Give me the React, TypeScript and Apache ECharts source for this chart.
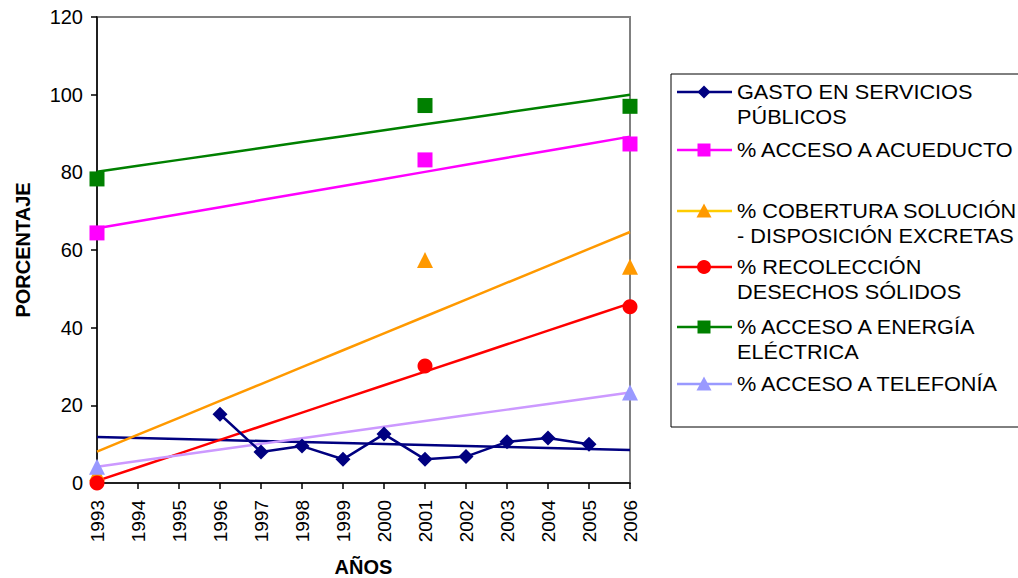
import React, { useEffect, useRef } from "react";
import * as echarts from "echarts";

const years = ["1993","1994","1995","1996","1997","1998","1999","2000","2001","2002","2003","2004","2005","2006"];
const yTicks = [0, 20, 40, 60, 80, 100, 120];

const gasto = [null, null, null, 17.7, 8.0, 9.5, 6.1, 12.6, 6.1, 6.8, 10.6, 11.6, 10.0, null];
const acueducto = [64.4, null, null, null, null, null, null, null, 83.2, null, null, null, null, 87.3];
const cobertura = [2.5, null, null, null, null, null, null, null, 57.4, null, null, null, null, 55.7];
const recoleccion = [0, null, null, null, null, null, null, null, 30.1, null, null, null, null, 45.4];
const energia = [78.3, null, null, null, null, null, null, null, 97.2, null, null, null, null, 97.0];
const telefonia = [4.2, null, null, null, null, null, null, null, null, null, null, null, null, 23.3];

const seriesNames = [
  "GASTO EN SERVICIOS PÚBLICOS",
  "% ACCESO A ACUEDUCTO",
  "% COBERTURA SOLUCIÓN - DISPOSICIÓN EXCRETAS",
  "% RECOLECCIÓN DESECHOS SÓLIDOS",
  "% ACCESO A ENERGÍA ELÉCTRICA",
  "% ACCESO A TELEFONÍA",
];
const legendLines = [
  ["GASTO EN SERVICIOS", "PÚBLICOS"],
  ["% ACCESO A ACUEDUCTO"],
  ["% COBERTURA SOLUCIÓN", "- DISPOSICIÓN EXCRETAS"],
  ["% RECOLECCIÓN", "DESECHOS SÓLIDOS"],
  ["% ACCESO A ENERGÍA", "ELÉCTRICA"],
  ["% ACCESO A TELEFONÍA"],
];

// linear regression (Excel-style trendline) over the available points
function trend(values: (number | null)[]): number[] {
  const pts: [number, number][] = [];
  values.forEach((v, i) => { if (v !== null) pts.push([i, v]); });
  const n = pts.length;
  const mx = pts.reduce((s, p) => s + p[0], 0) / n;
  const my = pts.reduce((s, p) => s + p[1], 0) / n;
  let sxy = 0, sxx = 0;
  pts.forEach(([x, y]) => { sxy += (x - mx) * (y - my); sxx += (x - mx) * (x - mx); });
  const b = sxy / sxx;
  const a = my - b * mx;
  return values.map((_, i) => +(a + b * i).toFixed(3));
}

const FONT = "Liberation Sans, Arial, sans-serif";

export default function App() {
  const ref = useRef<HTMLDivElement>(null);
  useEffect(() => {
    if (!ref.current) return;
    const chart = echarts.init(ref.current, null, { renderer: "svg" });

    const defs = [
      { data: gasto, symbol: "diamond", size: 15, marker: "#000080", line: "#000080", trendColor: "#000080", legendLine: "#000080", showLine: true },
      { data: acueducto, symbol: "rect", size: 15, marker: "#FF00FF", line: "#FF00FF", trendColor: "#FF00FF", legendLine: "#FF00FF", showLine: false },
      { data: cobertura, symbol: "triangle", size: 16, marker: "#FF9900", line: "#FF9900", trendColor: "#FF9900", legendLine: "#FFCC00", showLine: false },
      { data: recoleccion, symbol: "circle", size: 15, marker: "#FF0000", line: "#FF0000", trendColor: "#FF0000", legendLine: "#FF0000", showLine: false },
      { data: energia, symbol: "rect", size: 15, marker: "#008000", line: "#008000", trendColor: "#008000", legendLine: "#008000", showLine: false },
      { data: telefonia, symbol: "triangle", size: 16, marker: "#9999FF", line: "#9999FF", trendColor: "#CC99FF", legendLine: "#9999FF", showLine: false },
    ];

    const trendSeries = defs.map((d, i) => ({
      name: "Tendencia " + (i + 1),
      type: "line",
      data: trend(d.data),
      symbol: "none",
      lineStyle: { color: d.trendColor, width: 2.5 },
      z: 2,
      silent: true,
    }));

    const order = [0, 1, 2, 4, 5, 3];
    const markerSeries = order.map((i) => {
      const d = defs[i];
      return {
        name: seriesNames[i],
        type: "line",
        data: d.data,
        symbol: d.symbol,
        symbolSize: d.size,
        showAllSymbol: true,
        connectNulls: false,
        itemStyle: { color: d.marker },
        lineStyle: d.showLine ? { color: d.line, width: 2.5 } : { width: 0, opacity: 0 },
        z: 3,
      };
    });

    // legend drawn with graphic elements
    const legendEls: any[] = [
      { type: "rect", shape: { x: 671, y: 74, width: 400, height: 353 }, style: { fill: "#fff", stroke: "#000", lineWidth: 1 }, z: 0 },
    ];
    const iconY = [92, 150, 211, 267, 327, 384];
    defs.forEach((d, i) => {
      const y = iconY[i];
      legendEls.push({ type: "line", shape: { x1: 677, y1: y, x2: 732, y2: y }, style: { stroke: d.legendLine, lineWidth: 2.5 }, z: 1 });
      const cx = 704;
      const s = 13;
      if (d.symbol === "diamond") {
        legendEls.push({ type: "polygon", shape: { points: [[cx, y - s / 2], [cx + s / 2, y], [cx, y + s / 2], [cx - s / 2, y]] }, style: { fill: d.marker }, z: 2 });
      } else if (d.symbol === "rect") {
        legendEls.push({ type: "rect", shape: { x: cx - s / 2, y: y - s / 2, width: s, height: s }, style: { fill: d.marker }, z: 2 });
      } else if (d.symbol === "triangle") {
        legendEls.push({ type: "polygon", shape: { points: [[cx, y - s / 2 - 1], [cx + s / 2 + 1, y + s / 2], [cx - s / 2 - 1, y + s / 2]] }, style: { fill: d.marker }, z: 2 });
      } else {
        legendEls.push({ type: "circle", shape: { cx, cy: y, r: s / 2 + 0.5 }, style: { fill: d.marker }, z: 2 });
      }
      legendLines[i].forEach((t, k) => {
        legendEls.push({
          type: "text",
          x: 737,
          y: y + k * 24.5,
          scaleX: 1.085,
          style: { text: t, fill: "#000", font: "20px " + FONT, verticalAlign: "middle", textAlign: "left" },
          z: 2,
        });
      });
    });

    chart.setOption({
      animation: false,
      backgroundColor: "#fff",
      textStyle: { fontFamily: FONT },
      grid: { left: 97, top: 17, width: 533, height: 466, show: true, borderColor: "#808080", borderWidth: 2, backgroundColor: "transparent", containLabel: false, outerBoundsMode: "none" },
      xAxis: {
        type: "category",
        data: years,
        boundaryGap: false,
        name: "AÑOS",
        nameLocation: "middle",
        nameGap: 74,
        nameTextStyle: { fontSize: 20, fontWeight: "bold", color: "#000", fontFamily: FONT },
        axisLine: { lineStyle: { color: "#000", width: 1.5 } },
        axisTick: { show: true, inside: false, length: 6, interval: 0, lineStyle: { color: "#000", width: 1.5 } },
        axisLabel: { rotate: 90, interval: 0, fontSize: 19, color: "#000", margin: 17, fontFamily: FONT },
        splitLine: { show: false },
      },
      yAxis: {
        type: "value",
        min: yTicks[0],
        max: yTicks[yTicks.length - 1],
        interval: 20,
        name: "PORCENTAJE",
        nameLocation: "middle",
        nameRotate: 90,
        nameGap: 64,
        nameTextStyle: { fontSize: 20, fontWeight: "bold", color: "#000", fontFamily: FONT },
        axisLine: { show: true, lineStyle: { color: "#000", width: 1.5 } },
        axisTick: { show: true, inside: false, length: 6, lineStyle: { color: "#000", width: 1.5 } },
        axisLabel: { fontSize: 20, color: "#000", margin: 14, fontFamily: FONT },
        splitLine: { show: false },
      },
      graphic: { elements: legendEls },
      series: [...trendSeries, ...markerSeries],
    });
    return () => chart.dispose();
  }, []);
  return <div ref={ref} style={{ position: "absolute", left: 0, top: 0, width: 1018, height: 578 }} />;
}
